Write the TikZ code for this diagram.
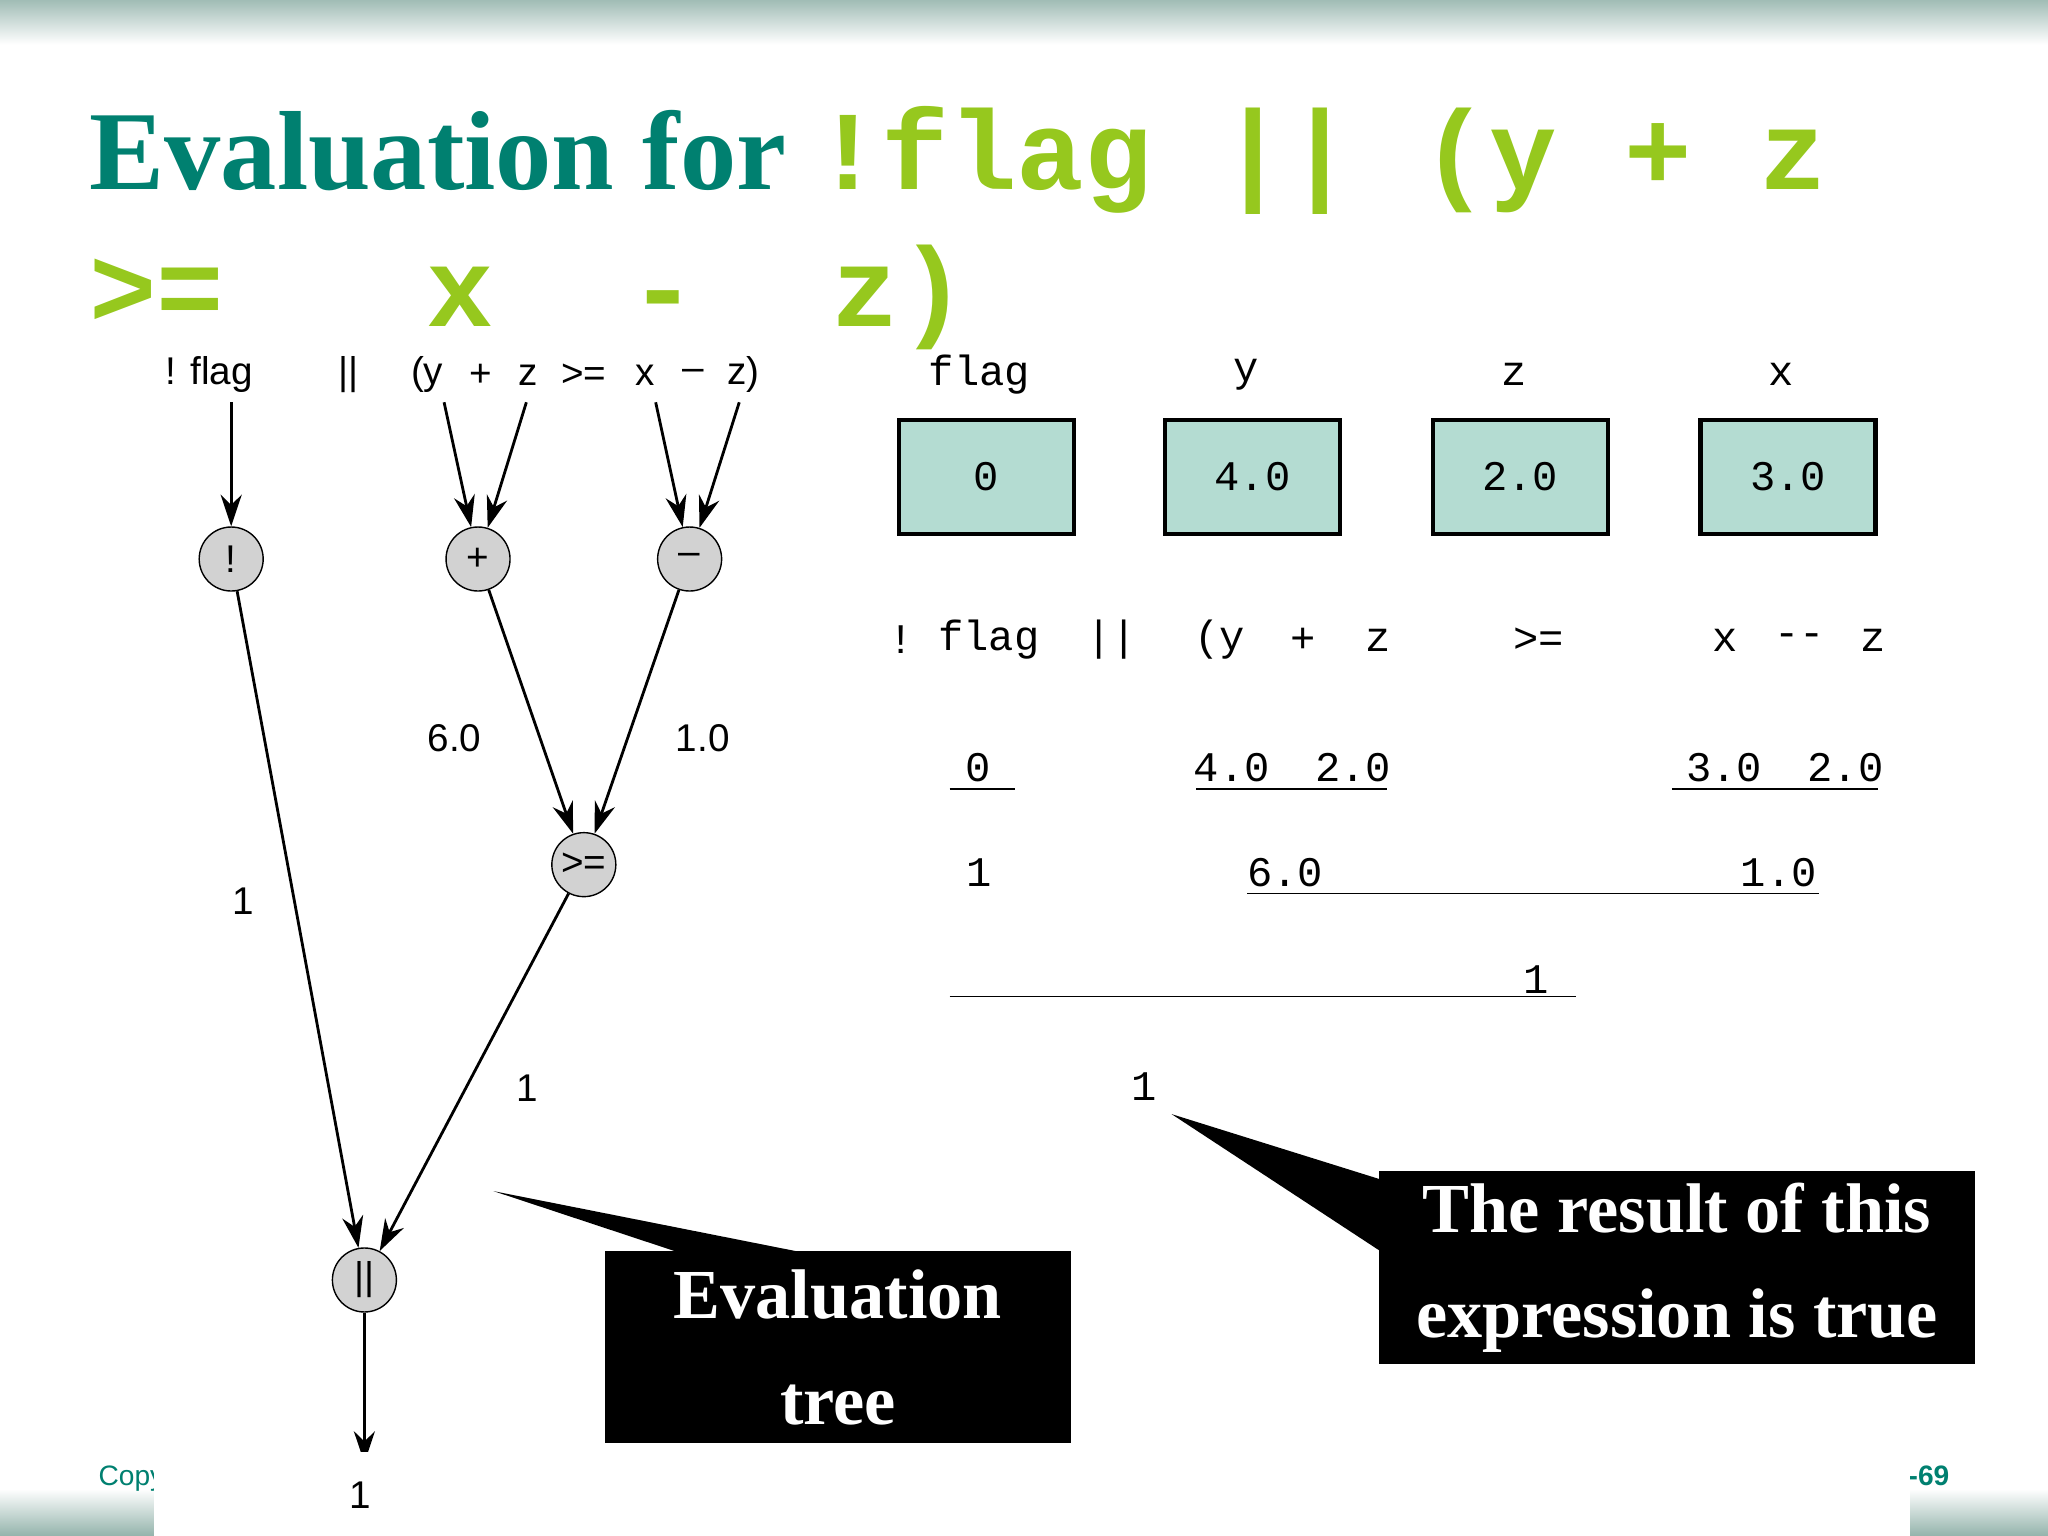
\documentclass[tikz,border=0pt]{standalone}
\usepackage{fontspec}
\setmainfont{Liberation Serif}
\setsansfont{Liberation Sans}
\setmonofont{Liberation Mono}
\usetikzlibrary{arrows.meta}
\definecolor{tealtitle}{RGB}{0,128,112}
\definecolor{limecode}{RGB}{150,200,30}
\definecolor{boxfill}{RGB}{180,220,210}
\definecolor{bandcol}{RGB}{120,160,150}
\begin{document}
\begin{tikzpicture}[x=0.013061cm, y=-0.013061cm,
    op/.style={circle, draw, fill=gray!35, minimum size=0.64cm, inner sep=0pt, font=\sffamily\fontsize{11}{13}\selectfont},
    lbl/.style={font=\sffamily\fontsize{11}{13}\selectfont, inner sep=1pt},
    arrow/.style={-{Stealth[length=9pt,width=6pt]}, thick},
    code/.style={font=\ttfamily\fontsize{12}{14}\selectfont, inner sep=1pt},
    varbox/.style={draw, very thick, fill=boxfill, minimum width=1.75cm, minimum height=1.14cm, font=\ttfamily\fontsize{12}{14}\selectfont},
    callout/.style={fill=black, text=white, align=center, font=\bfseries\fontsize{20}{30}\selectfont}
]
\useasboundingbox (0,0) rectangle (1568,1176);

% Banners
\fill[top color=bandcol!70, bottom color=white] (0,0) rectangle (1568,34);
\fill[top color=white, bottom color=bandcol!80] (0,1140) rectangle (1568,1176);

% Title
\node[anchor=base west, inner sep=0pt, text=tealtitle, font=\bfseries\fontsize{32}{38}\selectfont] (title) at (68,145) {Evaluation for \textcolor{limecode}{\ttfamily !flag || (y + z}};
\node[anchor=base west, inner sep=0pt, text=limecode, font=\ttfamily\bfseries\fontsize{32}{38}\selectfont] (title2) at (68,250) {>=\ \ \ x\ \ -\ \ z)};

% Expression labels (tree)
\node[lbl] (lnot) at (160,287) {! flag};
\node[lbl] (lor) at (267,287) {||};
\node[lbl] (ly) at (327,287) {(y};
\node[lbl] (lplus) at (368,287) {+};
\node[lbl] (lz1) at (404,287) {z};
\node[lbl] (lge) at (447,287) {>=};
\node[lbl] (lx) at (494,287) {x};
\node[lbl] (lminus) at (531,287) {--};
\node[lbl] (lz2) at (569,287) {z)};

% Operator nodes
\node[op] (n1) at (177,428) {!};
\node[op] (n2) at (366,428) {+};
\node[op] (n3) at (528,428) {--};
\node[op] (n4) at (447,662) {>=};
\node[op] (n5) at (279,980) {||};
\coordinate (out) at (279,1120);

\draw[arrow] (177,308) -- (n1);
\draw[arrow] (340,308) -- (n2);
\draw[arrow] (403,308) -- (n2);
\draw[arrow] (502,308) -- (n3);
\draw[arrow] (566,308) -- (n3);
\draw[arrow] (n1) -- (n5);
\draw[arrow] (n2) -- (n4);
\draw[arrow] (n3) -- (n4);
\draw[arrow] (n4) -- (n5);
\draw[arrow] (n5) -- (out);

% Edge values
\node[lbl] (v1) at (348,565) {6.0};
\node[lbl] (v2) at (538,565) {1.0};
\node[lbl] (v3) at (186,690) {1};
\node[lbl] (v4) at (404,833) {1};

% Variable boxes
\foreach \nm/\val/\xx in {flag/0/755, y/4.0/959, z/2.0/1164, x/3.0/1369} {
    \node[code] at (\xx-5,287) {\nm};
    \node[varbox] (b\nm) at (\xx,365) {\val};
}

% Step-by-step evaluation
\foreach \tok/\xx in {{!}/690, {flag}/757, {||}/851, {(y}/934, {+}/998, {z}/1055, {>=}/1178, {x}/1321, {--}/1378, {z}/1434}
    \node[code] at (\xx,490) {\tok};
\node[code] at (749,588) {0};
\node[code] at (943,588) {4.0};
\node[code] at (1036,588) {2.0};
\node[code] at (1320,588) {3.0};
\node[code] at (1413,588) {2.0};
\draw (727,604) -- (777,604);
\draw (916,604) -- (1062,604);
\draw (1280,604) -- (1438,604);
\node[code] at (750,668) {1};
\node[code] at (984,668) {6.0};
\node[code] at (1362,668) {1.0};
\draw (955,684) -- (1393,684);
\node[code] at (1176,750) {1};
\draw (727,763) -- (1207,763);
\node[code] (res) at (876,832) {1};

% Callouts
\node[callout, minimum width=4.66cm, minimum height=1.92cm] (c2) at (641.5,1031.5) {Evaluation\\tree};
\fill (378,912) -- (520,959) -- (615,959) -- cycle;
\node[callout, minimum width=5.96cm, minimum height=1.92cm] (c1) at (1284,970.5) {The result of this\\expression is true};
\fill (897,853) -- (1057,903) -- (1057,958) -- cycle;

% Footer
\node[anchor=base west, text=tealtitle, font=\sffamily\fontsize{8}{10}\selectfont] (copy) at (66,1137) {Copy};
\node[anchor=base east, text=tealtitle, font=\sffamily\bfseries\fontsize{8}{10}\selectfont] (page) at (1502,1137) {4-69};
\fill[white] (118,1112) rectangle (1462,1176);
\node[lbl] (vout) at (276,1145) {1};
\end{tikzpicture}
\end{document}
